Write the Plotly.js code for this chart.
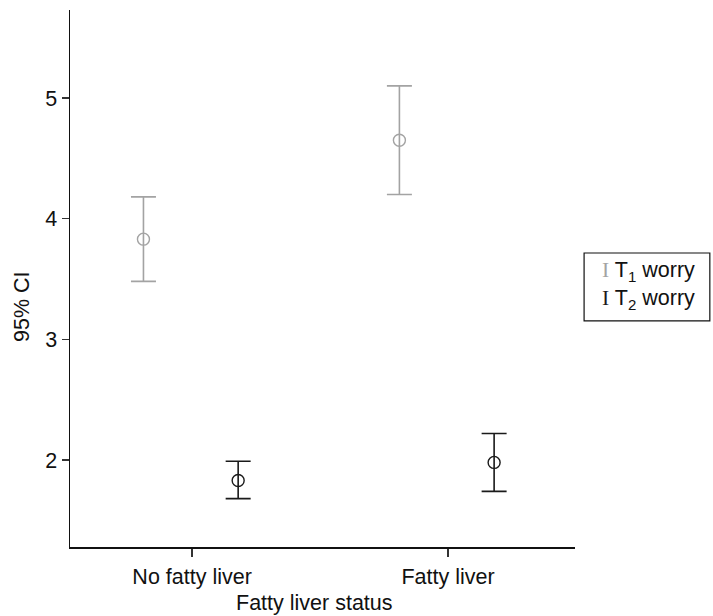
<!DOCTYPE html>
<html>
<head>
<meta charset="utf-8">
<script src="https://cdn.plot.ly/plotly-3.0.1.min.js"></script>
<style>
  html, body { margin: 0; padding: 0; background: #fff; }
  #chart { width: 713px; height: 616px; }
</style>
</head>
<body>
<div id="chart"></div>
<script>
// Fatty liver groups on the x axis
const categories = ["No fatty liver", "Fatty liver"];

// Worry score at T1: mean with 95% CI bounds
const t1Mean  = [3.83, 4.65];
const t1Lower = [3.48, 4.20];
const t1Upper = [4.18, 5.10];

// Worry score at T2: mean with 95% CI bounds
const t2Mean  = [1.83, 1.98];
const t2Lower = [1.68, 1.74];
const t2Upper = [1.99, 2.22];

const seriesNames = ["T<sub>1</sub> worry", "T<sub>2</sub> worry"];
const seriesColors = ["#a3a3a3", "#1a1a1a"];

const xTitle = "Fatty liver status";
const yTitle = "95% CI";

// horizontal dodge of the two time points inside each group
const dodge = [-0.19, 0.18];

function ciTrace(mean, lower, upper, k) {
  const xs = categories.map((_, i) => i + dodge[k]);
  return {
    type: "scatter",
    mode: "markers",
    x: xs,
    y: mean,
    name: seriesNames[k],
    showlegend: false,
    marker: {
      symbol: "circle-open",
      size: 12,
      color: seriesColors[k],
      line: { width: 1.4, color: seriesColors[k] }
    },
    error_y: {
      type: "data",
      symmetric: false,
      array: upper.map((u, i) => u - mean[i]),
      arrayminus: mean.map((m, i) => m - lower[i]),
      color: seriesColors[k],
      thickness: 1.6,
      width: 12.5
    },
    hoverinfo: "x+y"
  };
}

const traces = [
  ciTrace(t1Mean, t1Lower, t1Upper, 0),
  ciTrace(t2Mean, t2Lower, t2Upper, 1)
];

const font = { family: "Liberation Sans, Arial, Helvetica, sans-serif", size: 21.5, color: "#111" };

// legend drawn as a framed box with error-bar glyphs
const legendRows = [0.513, 0.461];
const annotations = seriesNames.map((nm, k) => ({
  xref: "paper", yref: "paper",
  x: 1.049, y: legendRows[k],
  xanchor: "left", yanchor: "middle",
  showarrow: false,
  align: "left",
  text: '<span style="font-family:Liberation Serif;color:' + seriesColors[k] + '">I</span> ' + nm,
  font: font
}));

// axis titles
annotations.push({
  xref: "paper", yref: "paper",
  x: 0.484, y: -0.104,
  xanchor: "center", yanchor: "middle",
  showarrow: false,
  text: xTitle,
  font: font
});
annotations.push({
  xref: "paper", yref: "paper",
  x: -0.095, y: 0.447,
  xanchor: "center", yanchor: "middle",
  textangle: -90,
  showarrow: false,
  text: yTitle,
  font: font
});

const layout = {
  width: 713,
  height: 616,
  margin: { l: 70, r: 138, t: 10, b: 69 },
  paper_bgcolor: "#fff",
  plot_bgcolor: "#fff",
  font: font,
  showlegend: false,
  xaxis: {
    range: [-0.477, 1.496],
    tickmode: "array",
    tickvals: categories.map((_, i) => i),
    ticktext: categories,
    showgrid: false,
    zeroline: false,
    showline: true,
    linecolor: "#111",
    linewidth: 1.5,
    ticks: "outside",
    ticklen: 8,
    tickwidth: 1.5,
    tickcolor: "#333",
    tickfont: font,
    ticklabelstandoff: 2
  },
  yaxis: {
    range: [1.279, 5.729],
    tickvals: [2, 3, 4, 5],
    showgrid: false,
    zeroline: false,
    showline: true,
    linecolor: "#111",
    linewidth: 1.5,
    ticks: "outside",
    ticklen: 7,
    tickwidth: 1.5,
    tickcolor: "#333",
    tickfont: font
  },
  shapes: [{
    type: "rect", xref: "paper", yref: "paper",
    x0: 1.018, x1: 1.267, y0: 0.421, y1: 0.5475,
    line: { color: "#111", width: 1.2 },
    fillcolor: "rgba(0,0,0,0)"
  }],
  annotations: annotations
};

Plotly.newPlot("chart", traces, layout, { displayModeBar: false, staticPlot: true });
</script>
</body>
</html>
